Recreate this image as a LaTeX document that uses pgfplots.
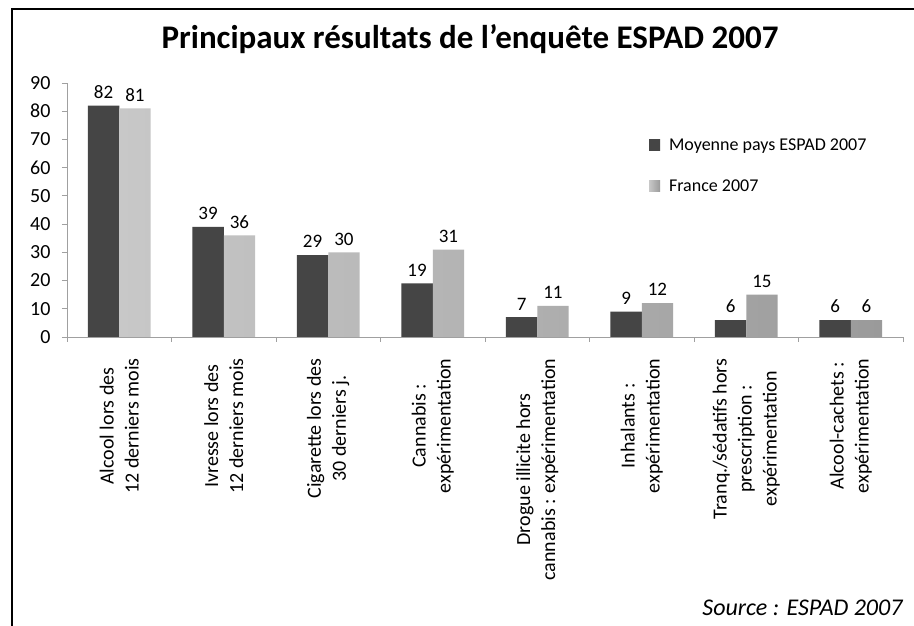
\documentclass[border=0pt]{standalone}
\usepackage{fontspec}
\setmainfont{Carlito}
\usepackage{pgfplots}
\pgfplotsset{compat=1.18}
\definecolor{darkbar}{HTML}{575757}
\definecolor{darkedge}{HTML}{454545}
\definecolor{lightbar}{HTML}{B4B4B4}
\definecolor{lightleft}{HTML}{C8C8C8}
\definecolor{lightedge}{HTML}{9A9A9A}
\definecolor{axisgray}{HTML}{A0A0A0}
\begin{document}
\begin{tikzpicture}[x=1pt,y=1pt]
\path[use as bounding box] (0,0) rectangle (914,626);
\fill[white] (0,0) rectangle (914,626);
\draw[line width=1.6pt] (12,0) -- (12,617) -- (914,617);
\node[font=\fontsize{33}{39}\selectfont\bfseries, anchor=base] at (470,577) {Principaux résultats de l’enquête ESPAD 2007};
\begin{axis}[
  at={(67pt,289pt)}, anchor=south west,
  scale only axis, width=836pt, height=254pt,
  xmin=0, xmax=8, ymin=0, ymax=90,
  ybar, bar width=0.3,
  axis x line=bottom, axis y line=left,
  axis line style={-, draw=axisgray, line width=0.8pt},
  tick align=outside, major tick length=5pt,
  tick style={draw=axisgray, line width=0.8pt},
  /pgf/number format/assume math mode=true,
  ytick={0,10,...,90},
  yticklabel style={font=\fontsize{20}{23}\selectfont, xshift=-8pt},
  xtick={0,1,...,8}, xticklabels={},
  extra x ticks={0.5,1.5,...,7.5},
  extra x tick labels={
    Alcool lors des\\12 derniers  mois,
    Ivresse lors des\\12 derniers  mois,
    Cigarette lors des\\30 derniers  j.,
    Cannabis :\\expérimentation,
    Drogue illicite hors\\cannabis : expérimentation,
    Inhalants :\\expérimentation,
    Tranq./sédatifs  hors\\prescription :\\expérimentation,
    Alcool-cachets :\\expérimentation},
  extra x tick style={major tick length=0pt, tick style={draw=none}},
  xticklabel style={font=\fontsize{20}{25}\selectfont, rotate=90, anchor=east, align=center},
  xticklabel shift=18pt,
  clip=false,
  legend style={at={(0.696,0.79)}, anchor=north west, draw=none, fill=none,
    font=\fontsize{18}{21}\selectfont, row sep=24pt, column sep=7pt, inner sep=0pt},
  legend cell align=left,
  legend image code/.code={\draw[#1, draw=none] (0pt,-5pt) rectangle (11pt,6pt);},
  nodes near coords,
  every node near coord/.append style={font=\fontsize{19}{22}\selectfont, text=black, inner sep=2pt, yshift=5pt},
]
\addplot[bar shift=-0.15, draw=none,
  left color=darkedge, middle color=darkbar, right color=darkedge]
  coordinates {(0.5,82) (1.5,39) (2.5,29) (3.5,19) (4.5,7) (5.5,9) (6.5,6) (7.5,6)};
\addlegendentry{Moyenne pays ESPAD 2007}
\addplot[bar shift=0.15, draw=none,
  left color=lightleft, middle color=lightbar, right color=lightedge]
  coordinates {(0.5,81) (1.5,36) (2.5,30) (3.5,31) (4.5,11) (5.5,12) (6.5,15) (7.5,6)};
\addlegendentry{France 2007}
\end{axis}
\node[font=\fontsize{24}{28}\selectfont\itshape, anchor=base east] at (906,10) {Source : ESPAD 2007};
\end{tikzpicture}
\end{document}
